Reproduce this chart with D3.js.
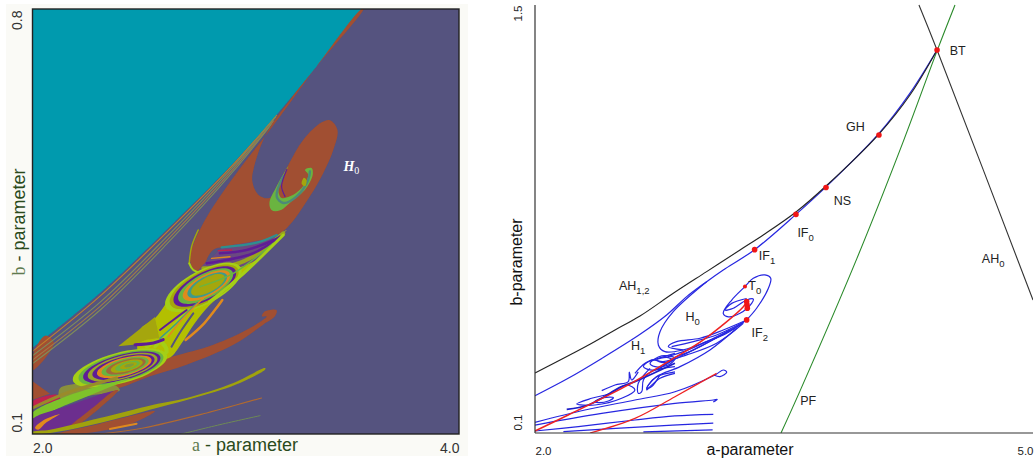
<!DOCTYPE html>
<html>
<head>
<meta charset="utf-8">
<script src="https://cdn.jsdelivr.net/npm/d3@7"></script>
<style>
html,body{margin:0;padding:0;background:#fff}
svg{display:block}
</style>
</head>
<body>
<svg id="chart" width="1036" height="458"></svg>
<script>
// ---------- tick labels ----------
const leftATicks = [2, 4];
const leftBTicks = [0.1, 0.8];
const rightATicks = [2, 5];
const rightBTicks = [0.1, 1.5];

// ---------- left panel regions, [a, b] ----------
const tealEdge = [[2,.2416],[2.3165,.3322],[2.629,.4365],[2.942,.5463],[3.145,.626],[3.332,.7055],[3.543,.8]];
const stripe1 = [[2,.236],[2.3165,.327],[2.629,.432],[2.942,.544],[3.145,.625]];
const stripe2 = [[2,.229],[2.32,.318],[2.63,.425],[2.94,.54],[3.14,.622]];
const stripe3 = [[2,.222],[2.32,.311],[2.63,.419],[2.94,.536],[3.13,.615]];
const stripe4 = [[2,.216],[2.32,.305],[2.63,.413],[2.94,.532],[3.12,.61]];
const brownWedge = [[2,.205],[2.1,.25],[2.06,.262],[2,.228]];
const brownH0 = [[3.552,.8],[3.543,.8],[3.332,.7055],[3.184,.634],[3.114,.601],[2.957,.53],[2.801,.4475],[2.739,.3926],[2.751,.3734],[2.785,.368],[2.848,.4036],[2.957,.409],[3.114,.4228],[3.192,.439],[3.301,.4914],[3.364,.53],[3.411,.568],[3.43,.601],[3.395,.6166],[3.356,.6133],[3.27,.5848],[3.2,.5436],[3.153,.5134],[3.111,.4887],[3.059,.4942],[3.031,.5161],[3.038,.5381],[3.098,.5957],[3.208,.6506],[3.341,.709]];
const brownEdgeOlive = [[2.735,.381],[2.746,.4086],[2.777,.436]];
const brownFoot = [[2.735,.381],[2.754,.37],[2.801,.3646]];
const spiralGreen = [[3.2,.541],[3.145,.5079],[3.111,.4805],[3.122,.4684],[3.161,.4684],[3.223,.486],[3.278,.5024],[3.314,.5271],[3.309,.5381],[3.278,.5354],[3.293,.5271],[3.262,.5052],[3.207,.4914],[3.168,.4887],[3.153,.5024]];
const spiralTeal = [[3.176,.5244],[3.145,.4914],[3.176,.4805],[3.239,.4914],[3.293,.5189],[3.301,.5326]];
const spiralPurple = [[3.192,.5354],[3.168,.5079],[3.184,.4914]];
const spiralCore = [[3.262,.512],[3.273,.522],[3.285,.518],[3.278,.508]];
const fanTop = [[2.793,.376],[2.848,.393],[2.887,.406],[3.035,.417],[3.16,.427],[3.207,.442],[3.067,.39],[2.942,.371],[2.848,.362],[2.77,.362]];
const fanTeal = [[2.887,.4075],[3.051,.4151],[3.145,.4278]];
const fanPurple1 = [[2.879,.3976],[3.004,.403],[3.153,.4223]];
const fanRed = [[2.871,.402],[2.934,.403]];
const fanPurple2 = [[2.817,.3811],[2.91,.3866],[3.035,.3976],[3.16,.425]];
const fanOrange = [[2.84,.3893],[2.926,.392]];
const fanOlive = [[2.801,.3729],[2.91,.3756],[3.02,.3893],[3.176,.4305]];
const chaosBody = [[3.192,.436],[3.051,.3866],[2.94,.346],[2.83,.312],[2.76,.282],[2.7,.25],[2.637,.2246],[2.504,.2274],[2.504,.2713],[2.574,.2905],[2.621,.3125],[2.66,.3344],[2.738,.3537],[2.817,.3674],[2.973,.3893],[3.114,.4168]];
const streakGreen = [[2.785,.3427],[2.942,.3646],[3.129,.414]];
const streakLime = [[2.83,.318],[2.973,.3591],[3.176,.4278]];
const fingerPurple = [[2.598,.2713],[2.66,.2878],[2.723,.3042]];
const fingerTeal = [[2.598,.2576],[2.676,.2823],[2.77,.3152]];
const fingerOrange = [[2.637,.2603],[2.699,.2878],[2.801,.3235]];
const fingerLime = [[2.574,.2439],[2.645,.2713],[2.715,.3015]];
const fingerSlit = [[2.652,.2439],[2.699,.2713],[2.754,.2988]];
const orangeFinger = [[2.718,.2548],[2.805,.2823],[2.89,.3207]];
const oliveTriangle = [[2.402,.2444],[2.574,.2927],[2.595,.2581],[2.535,.2554],[2.473,.2471]];
const limeS = [[2.535,.2444],[2.598,.2526],[2.629,.2362],[2.582,.2252]];
const purpleS = [[2.481,.2471],[2.567,.2499],[2.613,.2554]];
const tongue = [[3.145,.3037],[3.121,.3048],[3.09,.302],[3.075,.2938],[3.098,.2938],[3.02,.2746],[2.848,.2471],[2.66,.2279],[2.582,.2197],[2.473,.195],[2.317,.1785],[2.129,.173],[2.129,.1648],[2.379,.173],[2.551,.195],[2.723,.2142],[2.942,.2471],[3.082,.2801],[3.137,.2938]];
const brownLeft = [[2,.1867],[2.082,.1664],[2,.1565]];
const redLeft = [[2,.1538],[2.113,.1648],[2.129,.1593],[2,.1467]];
const streakOrange = [[2,.1428],[2.16,.1675],[2.395,.1922]];
const streakPatch = [[2.129,.1752],[2.223,.1835],[2.332,.1889],[2.41,.1725],[2.285,.1642],[2.129,.1588]];
const greenBand = [[2,.1346],[2.16,.162],[2.395,.1867],[2.457,.1922],[2.316,.1703],[2.16,.1483],[2,.1264]];
const purpleBlob = [[2,.1236],[2.16,.1456],[2.387,.1703],[2.316,.1483],[2.176,.1099],[2,.1071]];
const brownRim = [[2.402,.1719],[2.316,.1428],[2.191,.1099],[2.16,.1071],[2.3,.1483],[2.387,.1719]];
const orangeHook = [[2.012,.1099],[2.051,.1225],[2.129,.1329],[2.066,.1192],[2.027,.1071]];
const olivePlume = [[3.09,.2087],[2.942,.184],[2.723,.1593],[2.567,.1483],[2.316,.1264],[2.082,.1071],[2,.1033],[2,.1],[2.082,.1016],[2.316,.1181],[2.582,.1428],[2.785,.162],[2.973,.184],[3.093,.2071]];
const brownUnder = [[2.113,.1],[2.316,.117],[2.574,.1373],[2.473,.1181],[2.316,.1044],[2.199,.1]];
const thinBrown = [[3.074,.1593],[2.817,.1346],[2.52,.1099],[2.316,.1]];
const thinOrange = [[2.488,.117],[2.363,.1082]];
const thinGreen = [[3.067,.1302],[2.879,.1154],[2.699,.1]];

// vortices: centre, major half-axis, minor half-axis (a, b)
const vortexA = {c:[2.41,.2087], u:[-.22,-.0214], v:[.024,-.024]};
const vortexB = {c:[2.801,.3416], u:[-.175,-.033], v:[.04,-.024]};
const ringSizesA = [1,.9,.82,.74,.66,.58,.5,.42,.34,.26,.18,.1];
const ringSizesB = [1,.9,.82,.72,.62,.52,.44];

// ---------- right panel curves, [a, b] ----------
const ah0 = [[4.313,1.5],[4.422,1.353],[5,.535]];
const pf = [[3.482,.1],[3.596,.237],[3.94,.672],[4.199,1.026],[4.422,1.35],[4.53,1.5]];
const ah12 = [[2,.296],[2.331,.39],[2.482,.437],[2.6325,.4828],[2.833,.557],[3.034,.6278],[3.235,.6986],[3.375,.7477],[3.572,.8229],[3.753,.908],[4.072,1.078],[4.259,1.2056],[4.422,1.3528]];
const h1 = [[4.422,1.353],[4.259,1.212],[4.072,1.08],[3.753,.905],[3.572,.815],[3.323,.6997],[3.134,.6332],[3.034,.595],[2.914,.546],[2.793,.486],[2.633,.423],[2.402,.344],[2.2,.279],[2,.222]];
const h0 = [[3.034,.595],[2.833,.497],[2.753,.431],[2.743,.388],[2.783,.366],[2.894,.372],[3.034,.399],[3.155,.426],[3.275,.47]];
const t0Loop = [[3.275,.47],[3.335,.508],[3.406,.5733],[3.42,.606],[3.385,.617],[3.315,.606],[3.265,.579],[3.185,.535],[3.134,.4915],[3.165,.48],[3.235,.4915],[3.305,.524],[3.315,.538],[3.275,.535],[3.195,.508],[3.145,.5024],[3.185,.524],[3.275,.54]];
const fan1 = [[3.275,.4697],[3.134,.437],[2.994,.41],[2.853,.399],[2.803,.3825],[2.894,.3716]];
const fan2 = [[3.255,.462],[3.094,.4206],[2.954,.399],[2.823,.3825]];
const fan3 = [[3.235,.4533],[3.034,.399],[2.894,.366],[2.8,.35]];
const fan4 = [[3.205,.4424],[2.994,.3825],[2.873,.3497],[2.78,.325]];
const fan5 = [[3.175,.437],[2.954,.3716],[2.833,.344],[2.74,.305]];
const fan6 = [[3.255,.459],[3.094,.3935],[2.914,.3554],[2.773,.3336],[2.703,.339],[2.653,.317],[2.713,.306],[2.833,.339]];
const fan7 = [[3.215,.4425],[3.054,.3717],[2.874,.317],[2.733,.2845],[2.673,.246],[2.703,.2518],[2.753,.29]];
const loop1 = [[2.602,.295],[2.663,.328],[2.743,.344],[2.843,.3606]];
const loop2 = [[2.693,.328],[2.763,.352],[2.843,.344],[2.803,.3225],[2.723,.317]];
const loop3 = [[2.733,.339],[2.793,.3475],[2.823,.341],[2.773,.33]];
const finger1 = [[2.843,.317],[2.703,.301],[2.653,.2734],[2.643,.235],[2.622,.2298],[2.622,.2625],[2.693,.3115]];
const finger2 = [[2.843,.3],[2.733,.284],[2.683,.257],[2.673,.241],[2.693,.2516],[2.753,.279],[2.843,.295]];
const wing = [[2.402,.2385],[2.482,.257],[2.562,.268],[2.568,.2995],[2.582,.2734],[2.622,.3]];
const vortexOuter = [[2.251,.195],[2.341,.2135],[2.442,.2276],[2.552,.257],[2.602,.241],[2.522,.2135],[2.361,.1916]];
const vortexInner = [[2.361,.2026],[2.412,.2156],[2.472,.2156],[2.442,.2047],[2.382,.1993]];
const leftThick = [[2.191,.1775],[2.321,.1916],[2.522,.2516],[2.602,.268],[2.843,.328]];
const low1 = [[2,.135],[2.301,.1753],[2.602,.208],[2.843,.235],[3.084,.29],[3.135,.306],[3.155,.299],[3.114,.2845],[3.078,.29]];
const low2 = [[2,.126],[2.402,.164],[2.843,.197],[3.074,.208],[3.098,.21],[3.074,.2016]];
const low3 = [[2,.1066],[2.261,.1208],[2.602,.1426],[2.843,.1557],[3.074,.161]];
const low4 = [[2.171,.1047],[2.673,.121],[3.074,.132]];
const low5 = [[2.653,.1036],[3.07,.11]];
const redMain = [[2,.1066],[2.2,.159],[2.542,.2516],[2.833,.344],[3.014,.4044],[3.255,.513],[3.275,.53]];
const redSecond = [[2.331,.1],[2.602,.148],[2.843,.2189],[3.094,.295]];
const pointsA = [4.422,4.072,3.753,3.572,3.323,3.265,3.275,3.275,3.277,3.279];
const pointsB = [1.353,1.075,.903,.815,.6997,.579,.47,.53,.519,.508];
// label: text, subscript, a, b
const labels = [
  ["BT","",4.546,1.35],["GH","",3.93,1.1],["NS","",3.852,.86],["IF","0",3.63,.755],["IF","1",3.398,.678],
  ["T","0",3.324,.58],["IF","2",3.354,.426],["H","0",2.95,.48],["H","1",2.622,.385],["AH","1,2",2.598,.58],
  ["AH","0",4.76,.67],["PF","",3.646,.205]
];

// ---------- layout ----------
const svg = d3.select("#chart");
const xL = d3.scaleLinear().domain([2,4]).range([32.5,459]);
const yL = d3.scaleLinear().domain([.1,.8]).range([434,9]);
const xR = d3.scaleLinear().domain([2,5]).range([535,1033]);
const yR = d3.scaleLinear().domain([.1,1.5]).range([433,5]);
const sans = "'Liberation Sans',Arial,sans-serif";
const serif = "'Liberation Serif','DejaVu Serif',serif";

const defs = svg.append("defs");
defs.append("clipPath").attr("id","clipL").append("rect")
  .attr("x",xL(2)).attr("y",yL(.8)).attr("width",xL(4)-xL(2)).attr("height",yL(.1)-yL(.8));
defs.append("clipPath").attr("id","clipR").append("rect")
  .attr("x",xR(2)).attr("y",0).attr("width",xR(5)-xR(2)).attr("height",yR(.1));
defs.append("filter").attr("id","soft").attr("x","-5%").attr("y","-5%").attr("width","110%").attr("height","110%")
  .append("feGaussianBlur").attr("stdDeviation",.55);
defs.append("filter").attr("id","softR").attr("x","-5%").attr("y","-5%").attr("width","110%").attr("height","110%")
  .append("feGaussianBlur").attr("stdDeviation",.3);

// ---------- left panel ----------
svg.append("rect").attr("x",6).attr("y",4).attr("width",462).attr("height",452).attr("fill","#fafaf6");
const gL = svg.append("g").attr("clip-path","url(#clipL)").append("g").attr("filter","url(#soft)");
const C = {bg:"#54527f",teal:"#009aae",brown:"#a14f30",lime:"#a5cf14",olive:"#a5a60b",purple:"#5f1e96",
           green:"#6ab441",orange:"#e08a1f",red:"#c0214f",grey:"#4d8a77"};
const areaL = d3.line().x(d=>xL(d[0])).y(d=>yL(d[1])).curve(d3.curveCatmullRomClosed.alpha(.5));
const polyL = d3.line().x(d=>xL(d[0])).y(d=>yL(d[1]));
const pathL = d3.line().x(d=>xL(d[0])).y(d=>yL(d[1])).curve(d3.curveCatmullRom.alpha(.5));
const fillL = (pts,col,smooth=true)=>gL.append("path").attr("d",(smooth?areaL:polyL)(pts)+(smooth?"":"Z")).attr("fill",col);
const strokeL = (pts,col,w)=>gL.append("path").attr("d",pathL(pts)).attr("fill","none").attr("stroke",col)
  .attr("stroke-width",w).attr("stroke-linecap","round");
const ring = (vx,s,col)=>{
  const angles = d3.range(0,2*Math.PI,Math.PI/12);
  const k = (1-s)*.22;
  const pts = angles.map(t=>[vx.c[0]-k*vx.u[0]+s*(Math.cos(t)*vx.u[0]+Math.sin(t)*vx.v[0]),
                             vx.c[1]-k*vx.u[1]+s*(Math.cos(t)*vx.u[1]+Math.sin(t)*vx.v[1])]);
  fillL(pts,col);
};

gL.append("rect").attr("x",xL(2)).attr("y",yL(.8)).attr("width",xL(4)-xL(2)).attr("height",yL(.1)-yL(.8)).attr("fill",C.bg);
gL.append("path").attr("d",pathL(tealEdge)+`L${xL(2)},${yL(.8)}Z`).attr("fill",C.teal);
fillL(brownWedge,C.brown);
strokeL(stripe1,"#c0802c",1.1);
strokeL(stripe2,"#7f8c5a",1.2);
strokeL(stripe3,"#a07a48",1.2);
strokeL(stripe4,"#7f8c5a",1.1);
fillL(brownH0,C.brown);
strokeL(brownEdgeOlive,C.olive,1.5);
fillL(spiralGreen,C.green);
strokeL(spiralTeal,C.grey,2.4);
strokeL(spiralPurple,C.purple,1.2);
fillL(spiralCore,C.olive);

fillL(tongue,C.brown);
strokeL(orangeFinger,C.orange,2.5);
fillL(chaosBody,"#b3bf06");
fillL(fanTop,"#6a4a80");
strokeL(fanOlive,"#9ca51a",4);
strokeL(fanPurple2,C.purple,2.6);
strokeL(fanOrange,C.orange,1.4);
strokeL(fanPurple1,C.purple,2.6);
strokeL(fanRed,C.red,1.4);
strokeL(fanTeal,"#2f8f8f",2.2);
strokeL(brownFoot,C.lime,2);
fillL(oliveTriangle,C.olive,false);

const ringColorsB = [C.lime,C.olive,C.purple,C.green,C.orange,"#3f9a8a",C.olive];
ringSizesB.forEach((s,i)=>ring(vortexB,s,ringColorsB[i]));
strokeL(streakGreen,C.green,1.5);
strokeL(streakLime,C.lime,3);
strokeL(fingerLime,C.lime,3);
strokeL(fingerPurple,C.purple,2);
strokeL(fingerTeal,"#3f9a8a",1.5);
strokeL(fingerOrange,C.orange,1.5);
strokeL(fingerSlit,C.bg,2);
strokeL(limeS,C.lime,4);
strokeL(purpleS,C.purple,3);

fillL(brownLeft,C.brown,false);
fillL(streakPatch,"#8a8f3a");
const ringColorsA = [C.lime,C.green,C.purple,"#9aa52a",C.purple,C.orange,C.green,"#a0683a",C.olive,C.green,C.olive,"#7f9a3a"];
ringSizesA.forEach((s,i)=>ring(vortexA,s,ringColorsA[i]));
fillL(redLeft,C.red);
strokeL(streakOrange,"#9a8a2c",3);
fillL(greenBand,"#7ec32a");
fillL(purpleBlob,"#6c2d8e");
fillL(brownRim,C.brown);
fillL(orangeHook,C.orange);
fillL(brownUnder,C.brown);
fillL(olivePlume,"#a0a20a");
strokeL(thinBrown,"#b06a30",1.2);
strokeL(thinOrange,C.orange,2);
strokeL(thinGreen,"#6f8a55",1);

svg.append("rect").attr("x",xL(2)).attr("y",yL(.8)).attr("width",xL(4)-xL(2)).attr("height",yL(.1)-yL(.8))
  .attr("fill","none").attr("stroke","#222").attr("stroke-width",1.4);

const fmt = d3.format(".1f");
function axisText(g,size,col){
  g.select(".domain").remove();
  g.selectAll("line").remove();
  g.selectAll("text").attr("font-family",sans).attr("font-size",size).attr("fill",col).attr("dy",0);
}
const axLX = svg.append("g").attr("transform",`translate(0,${yL(.1)})`)
  .call(d3.axisBottom(xL).tickValues(leftATicks).tickFormat(fmt).tickSize(0));
axisText(axLX,14,"#333");
axLX.selectAll("text").attr("y",19).attr("text-anchor",(d,i)=>i?"end":"start");
const axLY = svg.append("g").attr("transform",`translate(${xL(2)},0)`)
  .call(d3.axisLeft(yL).tickValues(leftBTicks).tickFormat(fmt).tickSize(0));
axisText(axLY,14,"#333");
axLY.selectAll("text").attr("transform","rotate(-90)").attr("x",(d,i)=>i?-1:2).attr("y",-11)
  .attr("text-anchor",(d,i)=>i?"end":"start");

const titleCol = "#2a4a1c";
const tLx = svg.append("text").attr("x",245).attr("y",451).attr("text-anchor","middle")
  .attr("font-family",sans).attr("font-size",18).attr("fill",titleCol);
tLx.append("tspan").attr("font-family",serif).attr("fill","#5f7a4f").text("a");
tLx.append("tspan").text(" - parameter");
const tLy = svg.append("text").attr("transform","translate(25,222) rotate(-90)").attr("text-anchor","middle")
  .attr("font-family",sans).attr("font-size",18).attr("fill",titleCol);
tLy.append("tspan").attr("font-family",serif).attr("fill","#5f7a4f").text("b");
tLy.append("tspan").text(" - parameter");
const h0Text = svg.append("text").attr("x",xL(3.5)-9).attr("y",yL(.5)-20).attr("fill","#fff")
  .attr("font-family",serif).attr("font-style","italic").attr("font-weight","bold").attr("font-size",14);
h0Text.append("tspan").text("H");
h0Text.append("tspan").attr("font-size",10).attr("dy",3).attr("font-style","normal").attr("font-weight","normal").text("0");

// ---------- right panel ----------
const gR = svg.append("g").attr("clip-path","url(#clipR)").append("g").attr("filter","url(#softR)");
const pathR = d3.line().x(d=>xR(d[0])).y(d=>yR(d[1])).curve(d3.curveCatmullRom.alpha(.5));
const closedR = d3.line().x(d=>xR(d[0])).y(d=>yR(d[1])).curve(d3.curveCatmullRomClosed.alpha(.5));
const strokeR = (pts,col,w,gen=pathR)=>gR.append("path").attr("d",gen(pts)).attr("fill","none").attr("stroke",col).attr("stroke-width",w);
const blue = "#2626e0";

strokeR(ah0,"#333",1.1);
strokeR(pf,"#2a8a2a",1.1);
[h1,h0,t0Loop,fan1,fan2,fan3,fan4,fan5,fan6,fan7,loop1,finger1,finger2,wing,low1,low2,low3,low4,low5].forEach(c=>strokeR(c,blue,1.2));
[loop2,loop3,vortexOuter,vortexInner].forEach(c=>strokeR(c,blue,1.2,closedR));
strokeR(ah12,"#222",1.1);
strokeR(leftThick,"#1c1cc8",1.8);
strokeR(redMain,"#ee2222",1.5);
strokeR(redSecond,"#ee2222",1.2);
gR.selectAll("circle").data(pointsA).join("circle")
  .attr("cx",d=>xR(d)).attr("cy",(d,i)=>yR(pointsB[i])).attr("r",(d,i)=>i===5?2:2.8).attr("fill","#f01818");

svg.append("line").attr("x1",xR(2)).attr("x2",xR(2)).attr("y1",yR(1.5)).attr("y2",yR(.1)).attr("stroke","#333").attr("stroke-width",1.2);
svg.append("line").attr("x1",xR(2)).attr("x2",xR(5)).attr("y1",yR(.1)).attr("y2",yR(.1)).attr("stroke","#333").attr("stroke-width",1.2);

const axRX = svg.append("g").attr("transform",`translate(0,${yR(.1)})`)
  .call(d3.axisBottom(xR).tickValues(rightATicks).tickFormat(fmt).tickSize(0));
axisText(axRX,11.5,"#222");
axRX.selectAll("text").attr("y",22).attr("text-anchor",(d,i)=>i?"end":"start");
const axRY = svg.append("g").attr("transform",`translate(${xR(2)},0)`)
  .call(d3.axisLeft(yR).tickValues(rightBTicks).tickFormat(fmt).tickSize(0));
axisText(axRY,11.5,"#222");
axRY.selectAll("text").attr("transform","rotate(-90)").attr("x",(d,i)=>i?0:3).attr("y",-13)
  .attr("text-anchor",(d,i)=>i?"end":"start");

svg.append("text").attr("x",750).attr("y",455).attr("text-anchor","middle").attr("font-family",sans)
  .attr("font-size",16).attr("fill","#111").text("a-parameter");
svg.append("text").attr("transform","translate(522,262) rotate(-90)").attr("text-anchor","middle").attr("font-family",sans)
  .attr("font-size",16).attr("fill","#111").text("b-parameter");

const lab = svg.append("g").selectAll("text").data(labels).join("text")
  .attr("x",d=>xR(d[2])).attr("y",d=>yR(d[3])+4).attr("text-anchor","middle")
  .attr("font-family",sans).attr("font-size",12.5).attr("fill","#222");
lab.append("tspan").text(d=>d[0]);
lab.append("tspan").attr("font-size",9.5).attr("dy",4).text(d=>d[1]);
</script>
</body>
</html>
